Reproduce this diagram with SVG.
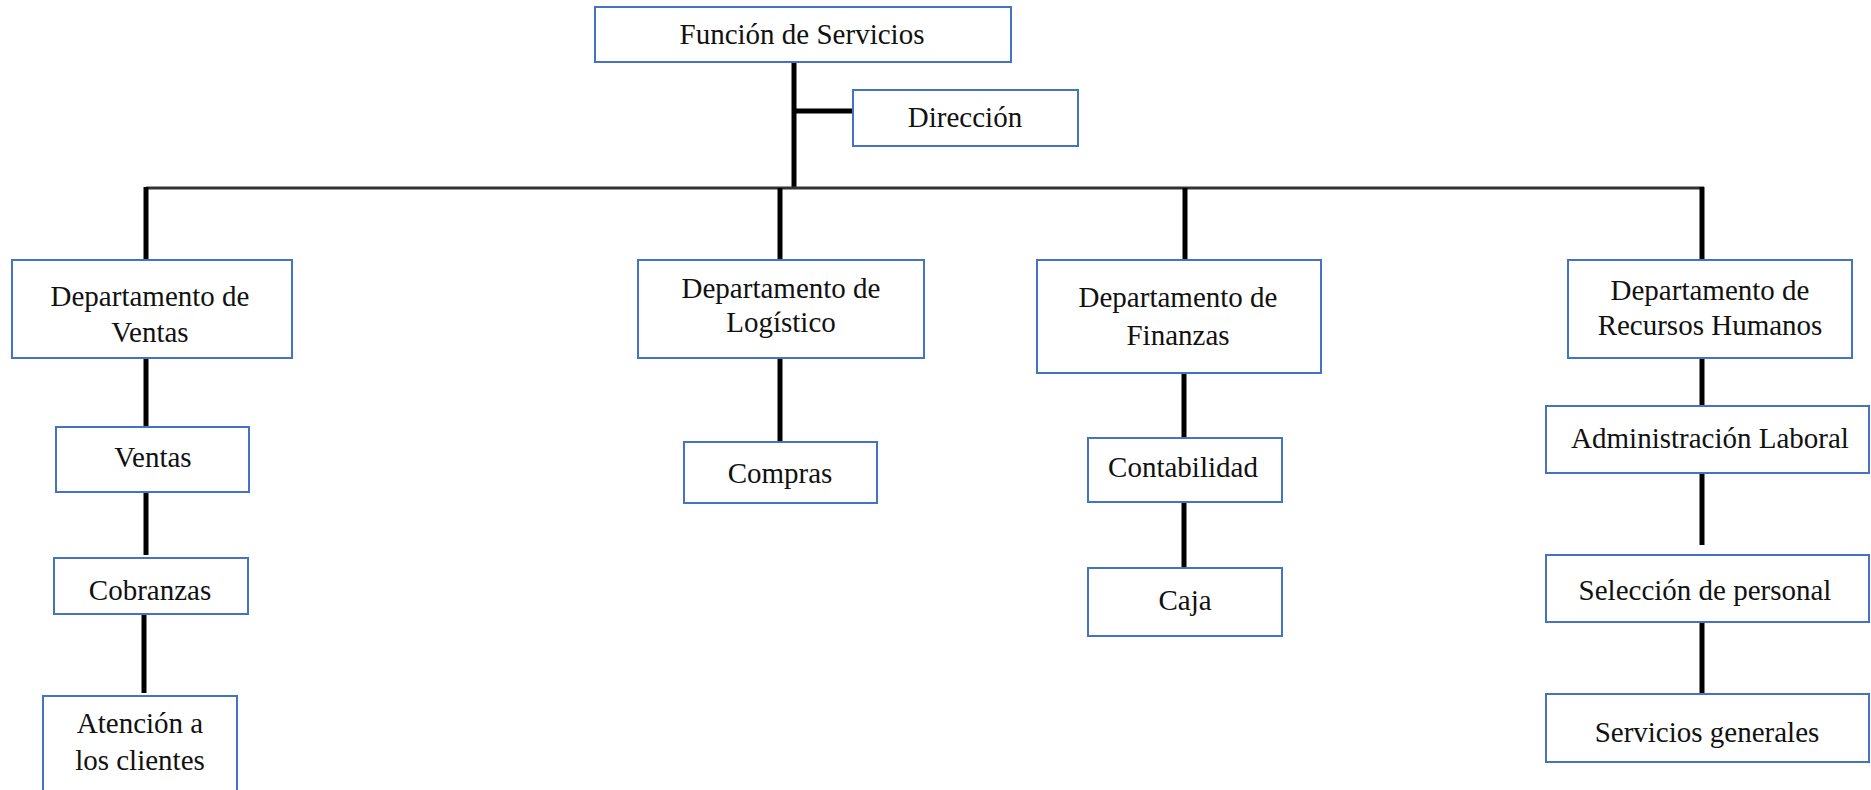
<svg xmlns="http://www.w3.org/2000/svg" width="1871" height="790" viewBox="0 0 1871 790">
<style>
.box{fill:#fff;stroke:#4472C4;stroke-width:2}
.t{font-family:"Liberation Serif","Times New Roman",serif;font-size:29px;fill:#111;text-anchor:middle}
.c{stroke:#000;stroke-width:5;fill:none}
.bus{stroke:#333;stroke-width:3;fill:none}
</style>
<rect width="1871" height="790" fill="#fff"/>
<g id="connectors">
<line class="c" x1="794" y1="62" x2="794" y2="188"/>
<line class="c" x1="794" y1="111" x2="853" y2="111"/>
<line class="bus" x1="146" y1="188" x2="1704" y2="188"/>
<line class="c" x1="146" y1="187" x2="146" y2="265" stroke-width="4"/>
<line class="c" x1="780" y1="188" x2="780" y2="260" stroke-width="4"/>
<line class="c" x1="1185" y1="188" x2="1185" y2="260"/>
<line class="c" x1="1702" y1="187" x2="1702" y2="260"/>
<line class="c" x1="146" y1="358" x2="146" y2="427" stroke-width="4"/>
<line class="c" x1="146" y1="492" x2="146" y2="555" stroke-width="4"/>
<line class="c" x1="144" y1="614" x2="144" y2="693" stroke-width="4"/>
<line class="c" x1="780" y1="355" x2="780" y2="442" stroke-width="6"/>
<line class="c" x1="1184" y1="373" x2="1184" y2="438" stroke-width="4"/>
<line class="c" x1="1184" y1="502" x2="1184" y2="568" stroke-width="4"/>
<line class="c" x1="1702" y1="358" x2="1702" y2="406"/>
<line class="c" x1="1702" y1="473" x2="1702" y2="545"/>
<line class="c" x1="1702" y1="622" x2="1702" y2="695"/>
</g>
<g id="funcion"><rect class="box" x="595" y="7" width="416" height="55"/><text class="t" x="802" y="44">Función de Servicios</text></g>
<g id="direccion"><rect class="box" x="853" y="90" width="225" height="56"/><text class="t" x="965" y="127">Dirección</text></g>
<g id="dep-ventas"><rect class="box" x="12" y="260" width="280" height="98"/><text class="t" x="150" y="306">Departamento de</text><text class="t" x="150" y="342">Ventas</text></g>
<g id="dep-logistico"><rect class="box" x="638" y="260" width="286" height="98"/><text class="t" x="781" y="298">Departamento de</text><text class="t" x="781" y="332">Logístico</text></g>
<g id="dep-finanzas"><rect class="box" x="1037" y="260" width="284" height="113"/><text class="t" x="1178" y="307">Departamento de</text><text class="t" x="1178" y="345">Finanzas</text></g>
<g id="dep-rrhh"><rect class="box" x="1568" y="260" width="284" height="98"/><text class="t" x="1710" y="300">Departamento de</text><text class="t" x="1710" y="335">Recursos Humanos</text></g>
<g id="ventas"><rect class="box" x="56" y="427" width="193" height="65"/><text class="t" x="153" y="467">Ventas</text></g>
<g id="cobranzas"><rect class="box" x="54" y="558" width="194" height="56"/><text class="t" x="150" y="600">Cobranzas</text></g>
<g id="atencion"><rect class="box" x="43" y="696" width="194" height="110"/><text class="t" x="140" y="733">Atención a</text><text class="t" x="140" y="770">los clientes</text></g>
<g id="compras"><rect class="box" x="684" y="442" width="193" height="61"/><text class="t" x="780" y="483">Compras</text></g>
<g id="contabilidad"><rect class="box" x="1088" y="438" width="194" height="64"/><text class="t" x="1183" y="477">Contabilidad</text></g>
<g id="caja"><rect class="box" x="1088" y="568" width="194" height="68"/><text class="t" x="1185" y="610">Caja</text></g>
<g id="admin-laboral"><rect class="box" x="1546" y="406" width="323" height="67"/><text class="t" x="1710" y="448">Administración Laboral</text></g>
<g id="seleccion"><rect class="box" x="1546" y="555" width="323" height="67"/><text class="t" x="1705" y="600">Selección de personal</text></g>
<g id="servicios-generales"><rect class="box" x="1546" y="694" width="323" height="68"/><text class="t" x="1707" y="742">Servicios generales</text></g>
</svg>
